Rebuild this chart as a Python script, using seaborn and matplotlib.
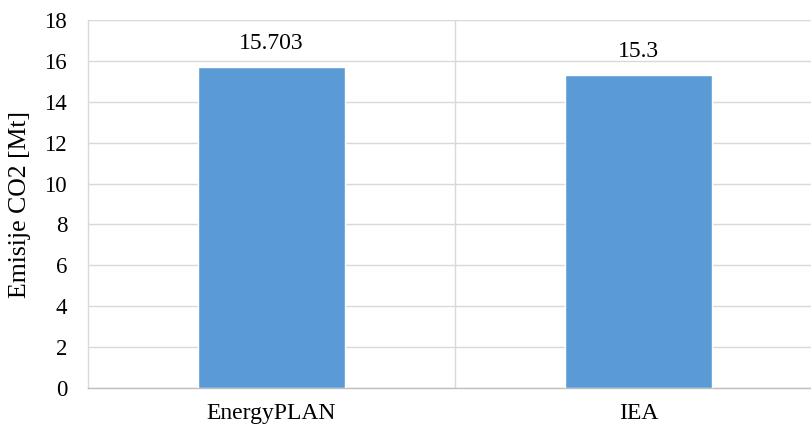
import matplotlib
matplotlib.use("Agg")
import matplotlib.pyplot as plt
import seaborn as sns
import pandas as pd

categories = ["EnergyPLAN", "IEA"]
emissions = [15.703, 15.3]
value_labels = ["15.703", "15.3"]

df = pd.DataFrame({"model": categories, "co2": emissions})

sns.set_style("white")
plt.rcParams["font.family"] = ["Liberation Serif", "DejaVu Serif"]
plt.rcParams["text.color"] = "black"
plt.rcParams["axes.labelcolor"] = "black"
plt.rcParams["xtick.color"] = "black"
plt.rcParams["ytick.color"] = "black"

fig = plt.figure(figsize=(8.12, 4.30), dpi=100)
ax = fig.add_axes([88 / 812, 1 - 388 / 430, 734 / 812, 368 / 430])

sns.barplot(data=df, x="model", y="co2", color="#5B9BD5", width=0.40,
            saturation=1, ax=ax, zorder=3)

# value labels above bars
for i, v in enumerate(emissions):
    ax.annotate(value_labels[i], (i, v), xytext=(0, 13), textcoords="offset points",
                ha="center", va="baseline", fontsize=17)

ax.set_xlim(-0.5, 1.5)
ax.set_ylim(0, 18)
ax.set_yticks(range(0, 19, 2))
ax.grid(axis="y", color="#D9D9D9", linewidth=1.0, zorder=0)
# separator between categories
ax.axvline(0.5, color="#D9D9D9", linewidth=1.0, zorder=0)

for side in ["top", "right"]:
    ax.spines[side].set_visible(False)
ax.spines["left"].set_color("#D9D9D9")
ax.spines["bottom"].set_color("#BFBFBF")
ax.spines["left"].set_linewidth(1.0)
ax.spines["bottom"].set_linewidth(1.0)

ax.tick_params(axis="y", length=0, pad=15, labelsize=16.5)
ax.tick_params(axis="x", length=0, pad=11, labelsize=17)
ax.set_xlabel("")
ax.set_ylabel("Emisije CO2 [Mt]", fontsize=18.5, labelpad=10)

fig.savefig("out.png", dpi=100)
